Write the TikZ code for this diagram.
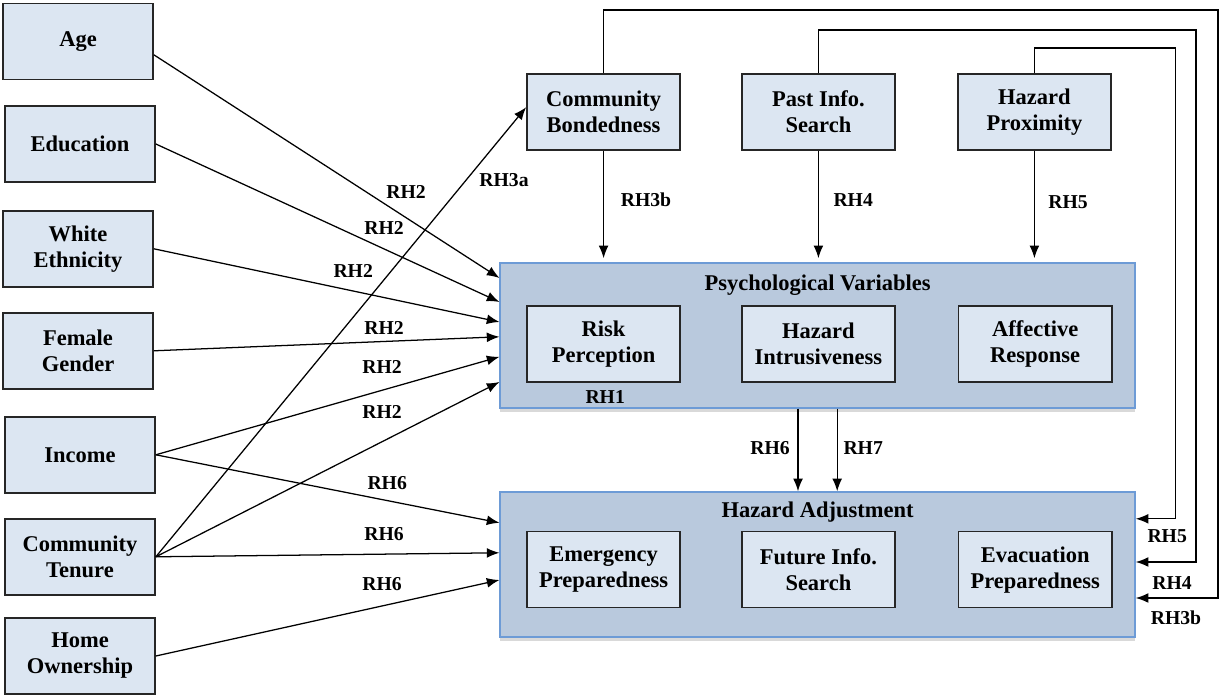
\documentclass[tikz,border=0pt]{standalone}
\usepackage{fontspec}
\setmainfont{Liberation Serif}
\usetikzlibrary{arrows.meta,shadows}

\definecolor{boxfill}{HTML}{DCE6F2}
\definecolor{groupfill}{HTML}{B9C9DD}
\definecolor{groupline}{HTML}{6D9BD6}

\begin{document}
\begin{tikzpicture}[
    var/.style={rectangle,draw=black!85,line width=1.2pt,fill=boxfill,
      minimum width=3.83cm,minimum height=1.9cm,align=center,
      font=\fontsize{16}{18.5}\selectfont\bfseries},
    group/.style={rectangle,draw=groupline,line width=0.9pt,fill=groupfill,
      minimum width=15.875cm,minimum height=3.625cm,
      drop shadow={shadow xshift=0pt,shadow yshift=-3pt,opacity=0.3}},
    title/.style={font=\fontsize{16}{18.5}\selectfont\bfseries},
    rh/.style={font=\fontsize{14}{16}\selectfont\bfseries},
    link/.style={line width=0.9pt,-{Latex[length=9pt,width=7pt]}}
  ]
  \useasboundingbox (0,0) rectangle (30.5,17.4);

  % background variables
  \node[var,minimum width=3.75cm] (age) at (1.95,16.36) {Age};
  \node[var,minimum width=3.75cm] (edu) at (2.0,13.8) {Education};
  \node[var,minimum width=3.75cm] (white) at (1.95,11.18) {White\\Ethnicity};
  \node[var,minimum width=3.75cm] (female) at (1.95,8.63) {Female\\Gender};
  \node[var,minimum width=3.75cm] (income) at (2.0,6.03) {Income};
  \node[var,minimum width=3.75cm] (tenure) at (2.0,3.48) {Community\\Tenure};
  \node[var,minimum width=3.75cm] (home) at (2.0,1.0) {Home\\Ownership};

  % top row
  \node[var] (cb) at (15.09,14.6) {Community\\Bondedness};
  \node[var] (past) at (20.46,14.6) {Past Info.\\Search};
  \node[var] (prox) at (25.86,14.6) {Hazard\\Proximity};

  % psychological variables
  \node[group] (psych) at (20.44,9.01) {};
  \node[title] (psychtitle) at (20.44,10.28) {Psychological Variables};
  \node[var] (risk) at (15.09,8.8) {Risk\\Perception};
  \node[var] (intr) at (20.46,8.8) {Hazard\\Intrusiveness};
  \node[var] (affect) at (25.88,8.8) {Affective\\Response};
  \node[rh] (rh1) at (15.13,7.48) {RH1};

  % hazard adjustment
  \node[group] (ha) at (20.44,3.29) {};
  \node[title] (hatitle) at (20.44,4.6) {Hazard Adjustment};
  \node[var] (emerg) at (15.09,3.16) {Emergency\\Preparedness};
  \node[var] (future) at (20.46,3.16) {Future Info.\\Search};
  \node[var] (evac) at (25.88,3.16) {Evacuation\\Preparedness};

  % left arrows
  \draw[link] ([yshift=-0.33cm]age.east) -- ([yshift=1.44cm]psych.west);
  \draw[link] (edu.east) -- ([yshift=0.84cm]psych.west);
  \draw[link] (white.east) -- ([yshift=0.34cm]psych.west);
  \draw[link] (female.east) -- ([yshift=-0.03cm]psych.west);
  \draw[link] (income.east) -- ([yshift=-0.53cm]psych.west);
  \draw[link] (tenure.east) -- ([yshift=-1.16cm]psych.west);
  \draw[link] (tenure.east) -- ([yshift=0.12cm]cb.west);
  \draw[link] (income.east) -- ([yshift=1.04cm]ha.west);
  \draw[link] (tenure.east) -- ([yshift=0.29cm]ha.west);
  \draw[link] (home.east) -- ([yshift=-0.39cm]ha.west);

  \node[rh] (rh2age) at (10.15,12.6) {RH2};
  \node[rh] (rh2edu) at (9.6,11.7) {RH2};
  \node[rh] (rh2white) at (8.83,10.63) {RH2};
  \node[rh] (rh2female) at (9.6,9.2) {RH2};
  \node[rh] (rh2income) at (9.55,8.23) {RH2};
  \node[rh] (rh2tenure) at (9.55,7.1) {RH2};
  \node[rh] (rh3a) at (12.6,12.9) {RH3a};
  \node[rh] (rh6income) at (9.68,5.33) {RH6};
  \node[rh] (rh6tenure) at (9.6,4.05) {RH6};
  \node[rh] (rh6home) at (9.55,2.8) {RH6};

  % top arrows
  \draw[link,shorten >=3pt] (cb.south) -- (cb.south |- psych.north);
  \draw[link,shorten >=3pt] (past.south) -- (past.south |- psych.north);
  \draw[link,shorten >=3pt] (prox.south) -- (prox.south |- psych.north);
  \node[rh] (rh3btop) at (16.15,12.4) {RH3b};
  \node[rh] (rh4top) at (21.33,12.4) {RH4};
  \node[rh] (rh5top) at (26.7,12.35) {RH5};

  % psych to adjustment
  \draw[link] ([xshift=-0.49cm]psych.south) -- ([xshift=-0.49cm]ha.north);
  \draw[link] ([xshift=0.49cm]psych.south) -- ([xshift=0.49cm]ha.north);
  \node[rh] (rh6mid) at (19.25,6.2) {RH6};
  \node[rh] (rh7mid) at (21.58,6.2) {RH7};

  % feedback lines
  \coordinate (turn3b) at (30.45,17.15);
  \coordinate (turn4) at (29.9,16.65);
  \coordinate (turn5) at (29.38,16.2);
  \draw[link] (cb.north) |- (turn3b) |- ([yshift=-0.84cm]ha.east);
  \draw[link] (past.north) |- (turn4) |- ([yshift=0.06cm]ha.east);
  \draw[link] (prox.north) |- (turn5) |- ([yshift=1.14cm]ha.east);
  \node[rh] (rh5side) at (29.18,4.0) {RH5};
  \node[rh] (rh4side) at (29.3,2.83) {RH4};
  \node[rh] (rh3bside) at (29.4,1.95) {RH3b};

\end{tikzpicture}
\end{document}
